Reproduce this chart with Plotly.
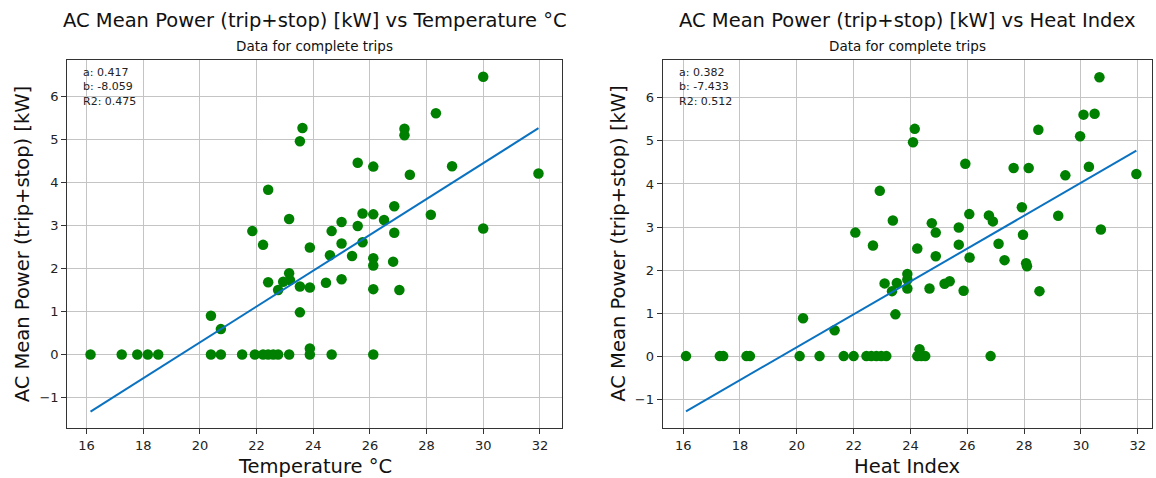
import plotly.graph_objects as go

# ---------- data ----------
temp_x = [23.62, 23.53, 22.41, 23.15, 21.85, 22.23, 23.88, 30.0, 28.33, 27.22, 27.22, 25.57, 26.12,
          28.9, 27.41, 31.95, 26.86, 25.74, 26.12, 28.15, 26.5, 25.0, 25.57, 24.65, 30.0, 26.86,
          25.0, 25.74, 24.59, 25.37, 26.12, 26.12, 26.82, 23.53, 23.88, 24.45, 25.0, 26.12, 27.04,
          23.53, 23.88, 23.15, 22.41, 22.94, 23.18, 22.76, 20.39, 20.74,
          16.14, 17.24, 17.79, 18.16, 18.53, 20.39, 20.74, 21.49, 21.94, 22.23, 22.41, 22.59,
          22.76, 23.15, 23.88, 24.65, 26.12]
temp_y = [5.27, 4.96, 3.83, 3.15, 2.87, 2.55, 2.49, 6.46, 5.61, 5.25, 5.10, 4.46, 4.37,
          4.38, 4.18, 4.21, 3.45, 3.28, 3.26, 3.25, 3.13, 3.08, 2.99, 2.87, 2.93, 2.83,
          2.58, 2.61, 2.31, 2.29, 2.24, 2.07, 2.16, 1.58, 1.56, 1.67, 1.75, 1.52, 1.50,
          0.98, 0.14, 1.89, 1.68, 1.69, 1.73, 1.50, 0.90, 0.59,
          0, 0, 0, 0, 0, 0, 0, 0, 0, 0, 0, 0, 0, 0, 0, 0, 0]

hi_x = [30.65, 30.09, 30.48, 24.15, 24.09, 28.5, 29.97, 25.93, 27.63, 28.16, 30.28, 29.45, 31.95,
        22.92, 23.38, 22.06, 22.68, 27.92, 26.07, 26.76, 26.9, 29.2, 24.75, 24.89, 25.7, 27.96,
        30.7, 25.7, 27.1, 24.24, 24.89, 26.08, 27.31, 28.07, 28.1, 23.89, 23.09, 23.52, 23.89,
        23.89, 23.35, 24.67, 25.2, 25.38, 25.87, 28.54, 23.47, 24.32, 20.22, 21.33,
        16.1, 17.29, 17.41, 18.23, 18.35, 20.1, 20.8, 21.65, 22.0, 22.45, 22.62, 22.8, 22.97,
        23.15, 24.24, 24.38, 24.52, 26.82]
hi_y = [6.48, 5.61, 5.63, 5.28, 4.97, 5.26, 5.11, 4.47, 4.37, 4.37, 4.40, 4.20, 4.23,
        3.84, 3.15, 2.87, 2.57, 3.46, 3.30, 3.27, 3.13, 3.26, 3.09, 2.87, 2.99, 2.82,
        2.94, 2.59, 2.61, 2.50, 2.32, 2.29, 2.23, 2.16, 2.09, 1.91, 1.69, 1.70, 1.78,
        1.57, 1.51, 1.57, 1.68, 1.74, 1.52, 1.51, 0.97, 0.16, 0.88, 0.60,
        0, 0, 0, 0, 0, 0, 0, 0, 0, 0, 0, 0, 0, 0, 0, 0, 0, 0]

# regression coefficients shown in the chart
fit_temp = {"a": 0.417, "b": -8.059, "r2": 0.475}
fit_hi = {"a": 0.382, "b": -7.433, "r2": 0.512}

x_ticks = [16, 18, 20, 22, 24, 26, 28, 30, 32]
y_ticks = [-1, 0, 1, 2, 3, 4, 5, 6]

titles = ["AC Mean Power (trip+stop) [kW] vs Temperature °C",
          "AC Mean Power (trip+stop) [kW] vs Heat Index"]
subtitle = "Data for complete trips"
x_titles = ["Temperature °C", "Heat Index"]
y_title = "AC Mean Power (trip+stop) [kW]"

# ---------- figure ----------
W, H = 1156, 478
FONT = "DejaVu Sans, Verdana, sans-serif"
GREEN = "#008000"
BLUE = "#0a72c0"

fig = go.Figure()

panels = [
    dict(x=temp_x, y=temp_y, fit=fit_temp, xa="x", ya="y",
         dom=(67.3, 562), xr=[15.32, 32.78], yr=[-1.71, 6.85]),
    dict(x=hi_x, y=hi_y, fit=fit_hi, xa="x2", ya="y2",
         dom=(662.7, 1152), xr=[15.28, 32.5], yr=[-1.67, 6.88]),
]

top_px, bot_px = 60, 428
ydom = [1 - bot_px / H, 1 - top_px / H]

for i, p in enumerate(panels):
    fig.add_trace(go.Scatter(
        x=p["x"], y=p["y"], mode="markers", xaxis=p["xa"], yaxis=p["ya"],
        marker=dict(color=GREEN, size=10.5, line=dict(width=0)),
        showlegend=False, hoverinfo="skip"))
    xmin, xmax = min(p["x"]), max(p["x"])
    a, b = p["fit"]["a"], p["fit"]["b"]
    fig.add_trace(go.Scatter(
        x=[xmin, xmax], y=[a * xmin + b, a * xmax + b], mode="lines",
        xaxis=p["xa"], yaxis=p["ya"], line=dict(color=BLUE, width=2),
        showlegend=False, hoverinfo="skip"))

    sfx = "" if i == 0 else str(i + 1)
    axis_common = dict(
        showgrid=True, gridcolor="#c4c4c4", gridwidth=1.2,
        showline=True, linecolor="#333333", linewidth=1.3, mirror=True,
        ticks="outside", ticklen=5, tickwidth=1.2, tickcolor="#333333",
        tickfont=dict(family=FONT, size=13, color="#222222"),
        zeroline=False,
    )
    fig.update_layout(**{
        "xaxis" + sfx: dict(axis_common, domain=[p["dom"][0] / W, p["dom"][1] / W],
                            range=p["xr"], tickvals=x_ticks, anchor="y" + sfx),
        "yaxis" + sfx: dict(axis_common, domain=ydom, range=p["yr"],
                            tickvals=y_ticks, ticktext=[("−1" if v == -1 else str(v)) for v in y_ticks],
                            anchor="x" + sfx),
    })

    cx = (p["dom"][0] + p["dom"][1]) / 2 / W
    fig.add_annotation(text=titles[i], x=cx, y=1 - 20 / H, xref="paper", yref="paper",
                       showarrow=False, font=dict(family=FONT, size=19.5, color="#111111"),
                       xanchor="center", yanchor="middle")
    fig.add_annotation(text=subtitle, x=cx, y=1 - 46 / H, xref="paper", yref="paper",
                       showarrow=False, font=dict(family=FONT, size=13.5, color="#111111"),
                       xanchor="center", yanchor="middle")
    fig.add_annotation(text=x_titles[i], x=cx, y=1 - 466 / H, xref="paper", yref="paper",
                       showarrow=False, font=dict(family=FONT, size=19.5, color="#111111"),
                       xanchor="center", yanchor="middle")
    fig.add_annotation(text=y_title, x=(p["dom"][0] - 45) / W, y=(ydom[0] + ydom[1]) / 2,
                       xref="paper", yref="paper", textangle=-90,
                       showarrow=False, font=dict(family=FONT, size=19.5, color="#111111"),
                       xanchor="center", yanchor="middle")
    f = p["fit"]
    fig.add_annotation(text=f"a: {f['a']:.3f}<br>b: {f['b']:.3f}<br>R2: {f['r2']:.3f}",
                       x=(p["dom"][0] + 14) / W, y=1 - 64 / H, xref="paper", yref="paper",
                       showarrow=False, align="left",
                       font=dict(family=FONT, size=11, color="#222222"),
                       xanchor="left", yanchor="top")

fig.update_layout(width=W, height=H, margin=dict(l=0, r=0, t=0, b=0),
                  paper_bgcolor="white", plot_bgcolor="white",
                  font=dict(family=FONT))

fig.write_html("out.html", config={"displayModeBar": False},
               post_script="document.body.style.margin='0px';document.body.style.overflow='hidden';")
